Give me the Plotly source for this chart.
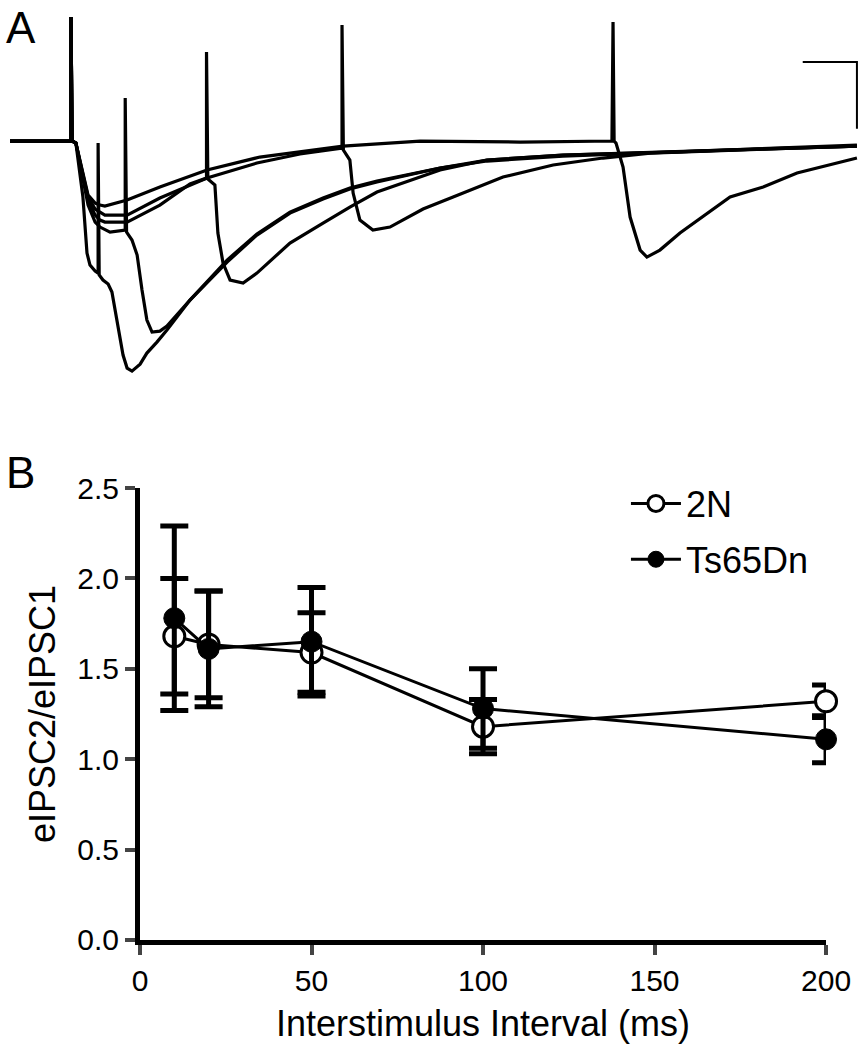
"""Paired-pulse eIPSC traces (A) and paired-pulse ratio vs interval (B)."""

import plotly.graph_objects as go

# ---- panel A: example eIPSC traces (time in ms, current in pA) ----
TRACE_10_T = [-22.5, 0, 0, 0.4, 1.8, 4.4, 5.9, 7.0, 8.9, 10, 10, 10.4, 11.8, 13.7, 15.1,
              17.0, 19.2, 20.7, 22.5, 25.5, 28.0, 31.7, 35.4, 43.9, 57.6, 68.6, 80.8,
              93.0, 102.9, 112.9, 136.2, 153.5, 181.5, 221.0, 290.0]
TRACE_10_I = [0, 0, 372, 0, -6, -168, -336, -372, -390, -396, -6, -402, -417, -429, -453,
              -537, -642, -681, -690, -669, -636, -603, -567, -477, -363, -282, -216,
              -174, -144, -123, -81, -60, -45, -33, -15]

TRACE_20_T = [-22.5, 0, 0, 0.4, 1.8, 4.1, 6.3, 8.9, 10.7, 14.4, 18.1, 20, 20, 20.5,
              22.5, 24.4, 26.2, 28.0, 29.9, 32.8, 35.4, 43.9, 57.6, 68.6, 80.8, 93.0,
              102.9, 112.9, 136.2, 153.5, 181.5, 221.0, 290.0]
TRACE_20_I = [0, 0, 372, 0, -6, -102, -192, -243, -258, -273, -270, -267, 129, -273,
              -297, -342, -447, -537, -573, -570, -555, -477, -357, -279, -213, -171,
              -141, -120, -81, -57, -42, -33, -15]

TRACE_50_T = [-22.5, 0, 0, 0.4, 1.8, 4.1, 6.3, 8.9, 10.7, 12.5, 20.7, 32.8, 43.9, 50, 50,
              50.5, 53.1, 54.2, 56.1, 58.7, 63.5, 68.6, 80.8, 93.0, 102.9, 112.9, 136.2,
              153.5, 181.5, 221.0, 290.0]
TRACE_50_I = [0, 0, 372, 0, -6, -93, -177, -222, -237, -243, -243, -192, -129, -111, 267,
              -114, -132, -276, -366, -417, -426, -396, -306, -246, -198, -153, -87,
              -57, -42, -33, -12]

TRACE_100_T = [-22.5, 0, 0, 0.4, 1.8, 4.1, 6.3, 8.9, 10.7, 12.5, 20.7, 32.8, 50.2, 68.6,
               84.5, 100, 100, 100.5, 102.9, 104.1, 106.6, 111.4, 117.7, 129.9, 141.0,
               159.4, 177.9, 196.3, 213.7, 250.6, 290.0]
TRACE_100_I = [0, 0, 372, 0, -6, -87, -168, -204, -213, -222, -222, -171, -111, -66,
               -39, -21, 348, -27, -57, -156, -237, -267, -258, -204, -168,
               -108, -72, -51, -36, -27, -15]

TRACE_200_T = [-22.5, 0, 0, 0.4, 1.8, 4.1, 6.3, 8.9, 10.7, 12.5, 20.7, 32.8, 50.2, 69.7,
               100.4, 128.8, 165.7, 199.6, 200, 200.4, 201.1, 203.7, 206.3, 210.0, 212.5,
               217.3, 224.7, 243.2, 255.4, 267.9, 290.0]
TRACE_200_I = [0, 0, 372, 0, -6, -87, -162, -186, -192, -195, -177, -138, -87, -48,
               -15, 0, -3, 0, 357, 0, -6, -78, -228, -327, -348,
               -327, -276, -168, -138, -96, -51]

# scale bar: 20 ms / 200 pA
SCALE_T = [270, 290, 290]
SCALE_I = [237, 237, 37]

# ---- panel B: paired-pulse ratio ----
INTERVALS = [10, 20, 50, 100, 200]
RATIO_2N = [1.68, 1.635, 1.59, 1.18, 1.32]
ERR_2N = [0.32, 0.295, 0.22, 0.15, 0.09]
RATIO_TS = [1.78, 1.61, 1.65, 1.28, 1.11]
ERR_TS = [0.51, 0.32, 0.30, 0.22, 0.13]

FONT = "Liberation Sans, Arial, sans-serif"

fig = go.Figure()

traces_a = [
    (TRACE_10_T, TRACE_10_I),
    (TRACE_20_T, TRACE_20_I),
    (TRACE_50_T, TRACE_50_I),
    (TRACE_100_T, TRACE_100_I),
    (TRACE_200_T, TRACE_200_I),
]
for t, i in traces_a:
    fig.add_trace(go.Scatter(
        x=t, y=i, mode="lines", xaxis="x2", yaxis="y2",
        line=dict(color="black", width=3.2), showlegend=False, hoverinfo="skip",
    ))

fig.add_trace(go.Scatter(
    x=SCALE_T, y=SCALE_I, mode="lines", xaxis="x2", yaxis="y2",
    line=dict(color="black", width=2), showlegend=False, hoverinfo="skip",
))

fig.add_trace(go.Scatter(
    x=INTERVALS, y=RATIO_2N, name="2N", mode="lines+markers", legendgroup="2n",
    line=dict(color="black", width=3),
    marker=dict(symbol="circle", size=21, color="white",
                line=dict(color="black", width=3)),
    error_y=dict(type="data", array=ERR_2N, color="black", thickness=5, width=14),
    cliponaxis=False,
))
fig.add_trace(go.Scatter(
    x=INTERVALS, y=RATIO_TS, name="Ts65Dn", mode="lines+markers", legendgroup="ts",
    line=dict(color="black", width=3),
    marker=dict(symbol="circle", size=21, color="black",
                line=dict(color="black", width=1)),
    error_y=dict(type="data", array=ERR_TS, color="black", thickness=5, width=14),
    cliponaxis=False,
))

fig.update_layout(
    width=861, height=1050,
    margin=dict(l=0, r=0, t=0, b=0),
    paper_bgcolor="white", plot_bgcolor="white",
    font=dict(family=FONT, color="black", size=30),
    xaxis=dict(
        domain=[0.1626, 0.9594], range=[0, 200], automargin=False,
        tickvals=[0, 50, 100, 150, 200], ticks="outside", ticklen=10, tickwidth=4,
        showline=True, linewidth=5, linecolor="black", showgrid=False, zeroline=False,
        tickfont=dict(size=30),
        title=dict(text="Interstimulus Interval (ms)", font=dict(size=36), standoff=16),
    ),
    yaxis=dict(
        domain=[0.1048, 0.5352], range=[0, 2.5], automargin=False,
        tickvals=[0, 0.5, 1.0, 1.5, 2.0, 2.5], tickformat=".1f",
        ticks="outside", ticklen=10, tickwidth=4,
        showline=True, linewidth=5, linecolor="black", showgrid=False, zeroline=False,
        tickfont=dict(size=30),
        title=dict(text="eIPSC2/eIPSC1", font=dict(size=36), standoff=12),
    ),
    xaxis2=dict(domain=[0, 1], range=[-26.2, 291.5], visible=False, anchor="y2",
                automargin=False),
    yaxis2=dict(domain=[0.638, 1], range=[-717, 423], visible=False, anchor="x2",
                automargin=False),
    legend=dict(
        x=0.727, y=0.549, xanchor="left", yanchor="top",
        font=dict(size=36), bgcolor="rgba(0,0,0,0)", itemwidth=50,
        traceorder="grouped", tracegroupgap=6,
    ),
    annotations=[
        dict(text="A", x=0.005, y=0.999, xref="paper", yref="paper",
             xanchor="left", yanchor="top", showarrow=False, font=dict(size=44)),
        dict(text="B", x=0.005, y=0.575, xref="paper", yref="paper",
             xanchor="left", yanchor="top", showarrow=False, font=dict(size=44)),
    ],
)

fig.write_html(
    "out.html",
    config={"displayModeBar": False},
    post_script="document.body.style.margin='0';document.body.style.overflow='hidden';",
)
